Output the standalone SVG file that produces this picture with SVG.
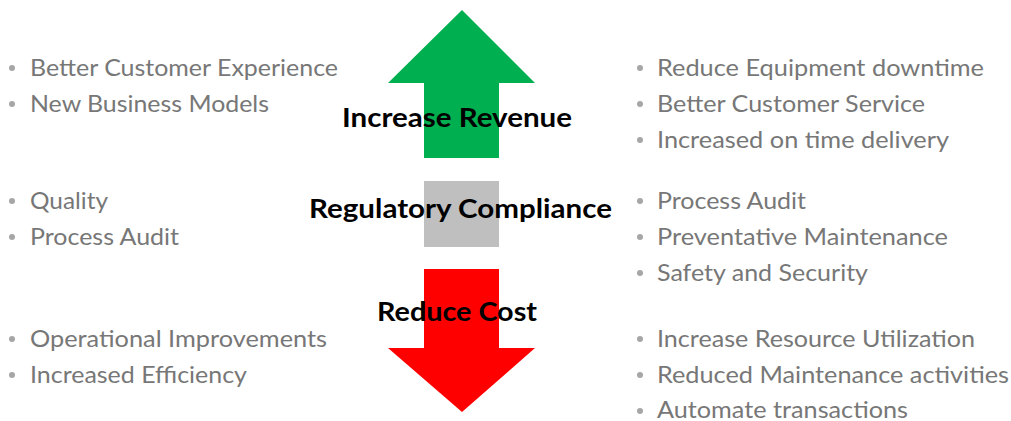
<svg xmlns="http://www.w3.org/2000/svg" width="1011" height="421" viewBox="0 0 1011 421">
<style>
.it{font-family:Lato,"Open Sans","Liberation Sans",sans-serif;font-size:23px;fill:#777777}
.b{fill:#a6a6a6}
.lbl{font-family:Lato,"Open Sans","Liberation Sans",sans-serif;font-size:27px;font-weight:bold;fill:#000}
</style>
<rect width="1011" height="421" fill="#fff"/>
<g id="arrow-up">
<polygon points="462,10 535,83 499,83 499,158 424,158 424,83 388,83" fill="#00b050"/>
</g>
<g id="compliance-box">
<rect x="424" y="181" width="75" height="66" fill="#bfbfbf"/>
</g>
<g id="arrow-down">
<polygon points="424,269 499,269 499,348 535,348 462,412 388,348 424,348" fill="#ff0000"/>
</g>
<g id="labels">
<text class="lbl" x="342" y="127" textLength="230" lengthAdjust="spacingAndGlyphs">Increase Revenue</text>
<text class="lbl" x="309" y="218" textLength="303" lengthAdjust="spacingAndGlyphs">Regulatory Compliance</text>
<text class="lbl" x="377" y="321" textLength="160" lengthAdjust="spacingAndGlyphs">Reduce Cost</text>
</g>
<g id="left-list">
<circle class="b" cx="12" cy="68" r="3"/><text class="it" x="30" y="76" textLength="308" lengthAdjust="spacingAndGlyphs">Better Customer Experience</text>
<circle class="b" cx="12" cy="104" r="3"/><text class="it" x="30" y="112" textLength="239" lengthAdjust="spacingAndGlyphs">New Business Models</text>
<circle class="b" cx="12" cy="201" r="3"/><text class="it" x="30" y="209" textLength="78" lengthAdjust="spacingAndGlyphs">Quality</text>
<circle class="b" cx="12" cy="237" r="3"/><text class="it" x="30" y="245" textLength="149" lengthAdjust="spacingAndGlyphs">Process Audit</text>
<circle class="b" cx="12" cy="339" r="3"/><text class="it" x="30" y="347" textLength="297" lengthAdjust="spacingAndGlyphs">Operational Improvements</text>
<circle class="b" cx="12" cy="375" r="3"/><text class="it" x="30" y="383" textLength="217" lengthAdjust="spacingAndGlyphs">Increased Efficiency</text>
</g>
<g id="right-list">
<circle class="b" cx="640" cy="68" r="3"/><text class="it" x="657" y="76" textLength="327" lengthAdjust="spacingAndGlyphs">Reduce Equipment downtime</text>
<circle class="b" cx="640" cy="104" r="3"/><text class="it" x="657" y="112" textLength="268" lengthAdjust="spacingAndGlyphs">Better Customer Service</text>
<circle class="b" cx="640" cy="140" r="3"/><text class="it" x="657" y="148" textLength="292" lengthAdjust="spacingAndGlyphs">Increased on time delivery</text>
<circle class="b" cx="640" cy="201" r="3"/><text class="it" x="657" y="209" textLength="149" lengthAdjust="spacingAndGlyphs">Process Audit</text>
<circle class="b" cx="640" cy="237" r="3"/><text class="it" x="657" y="245" textLength="291" lengthAdjust="spacingAndGlyphs">Preventative Maintenance</text>
<circle class="b" cx="640" cy="273" r="3"/><text class="it" x="657" y="281" textLength="211" lengthAdjust="spacingAndGlyphs">Safety and Security</text>
<circle class="b" cx="640" cy="339" r="3"/><text class="it" x="657" y="347" textLength="318" lengthAdjust="spacingAndGlyphs">Increase Resource Utilization</text>
<circle class="b" cx="640" cy="375" r="3"/><text class="it" x="657" y="383" textLength="352" lengthAdjust="spacingAndGlyphs">Reduced Maintenance activities</text>
<circle class="b" cx="640" cy="411" r="3"/><text class="it" x="657" y="418" textLength="251" lengthAdjust="spacingAndGlyphs">Automate transactions</text>
</g>
</svg>
